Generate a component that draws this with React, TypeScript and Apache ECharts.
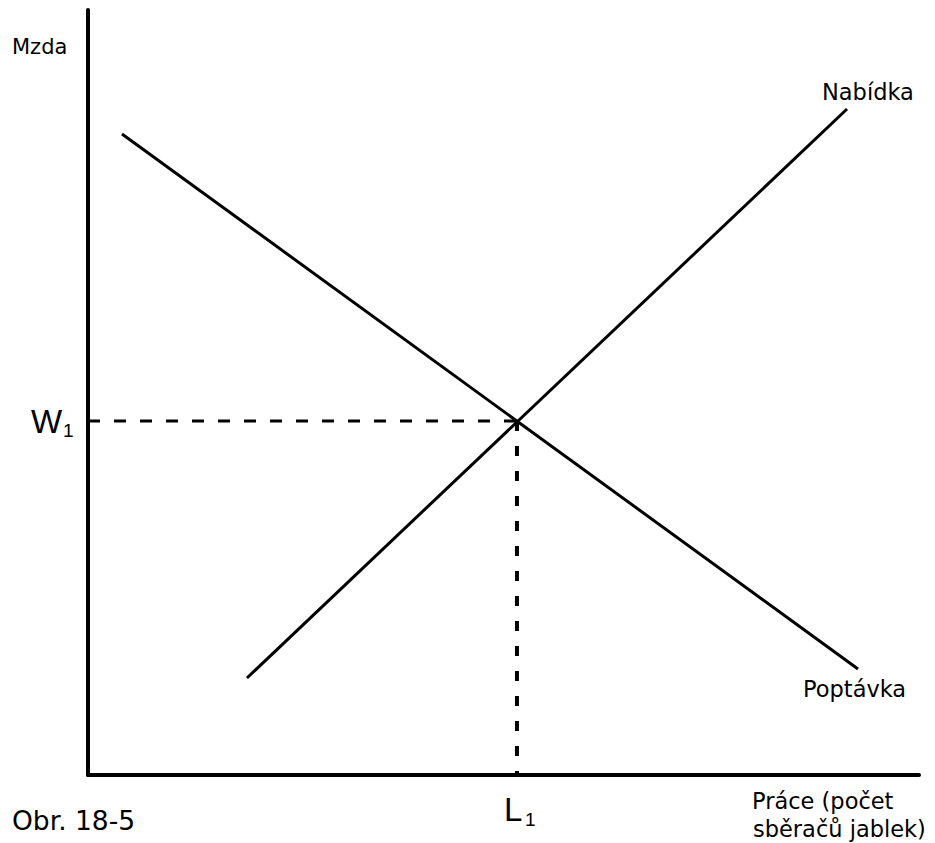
import React, { useEffect, useRef } from "react";
import * as echarts from "echarts";

// Abstract units: x = quantity of labour (0-100), y = wage (0-100)
const demandLine: [number, number][] = [
  [4.09, 83.8],
  [92.66, 13.86],
];
const supplyLine: [number, number][] = [
  [19.13, 12.68],
  [91.34, 87.06],
];
const equilibrium: [number, number] = [51.62, 46.27];

const yAxisTitle = "Mzda";
const xAxisTitleLines = ["Práce (počet", "sběračů jablek)"];
const supplyName = "Nabídka";
const demandName = "Poptávka";
const figureCaption = "Obr. 18-5";

export default function App() {
  const ref = useRef<HTMLDivElement>(null);

  useEffect(() => {
    if (!ref.current) return;
    const chart = echarts.init(ref.current, undefined, { renderer: "svg" });
    const font = "DejaVu Sans";
    const serifless = "Liberation Sans";
    const txt = (
      text: string,
      x: number,
      y: number,
      size: number,
      family = font
    ) => ({
      type: "text",
      x,
      y,
      style: {
        text,
        fill: "#000",
        font: `${size}px "${family}"`,
        textVerticalAlign: "middle",
        textAlign: "left",
      },
    });

    chart.setOption({
      animation: false,
      backgroundColor: "#fff",
      grid: { left: 88, top: 10, width: 831, height: 765 },
      xAxis: {
        type: "value",
        min: 0,
        max: 100,
        axisLine: { show: true, onZero: false, lineStyle: { color: "#000", width: 4 } },
        axisTick: { show: false },
        axisLabel: { show: false },
        splitLine: { show: false },
      },
      yAxis: {
        type: "value",
        min: 0,
        max: 100,
        axisLine: { show: true, onZero: false, lineStyle: { color: "#000", width: 4 } },
        axisTick: { show: false },
        axisLabel: { show: false },
        splitLine: { show: false },
      },
      series: [
        {
          name: demandName,
          type: "line",
          data: demandLine,
          symbol: "none",
          lineStyle: { color: "#000", width: 3 },
        },
        {
          name: supplyName,
          type: "line",
          data: supplyLine,
          symbol: "none",
          lineStyle: { color: "#000", width: 3 },
        },
        {
          name: "W1",
          type: "line",
          data: [
            [0, equilibrium[1]],
            [equilibrium[0], equilibrium[1]],
          ],
          symbol: "none",
          lineStyle: { color: "#000", width: 3, type: [12, 14] },
        },
        {
          name: "L1",
          type: "line",
          data: [
            [equilibrium[0], equilibrium[1]],
            [equilibrium[0], 0],
          ],
          symbol: "none",
          lineStyle: { color: "#000", width: 4, type: [10, 15] },
        },
      ],
      graphic: [
        txt(yAxisTitle, 12, 47, 21),
        txt(supplyName, 822, 92, 22.5),
        txt(demandName, 803, 689, 22.5),
        txt("W", 31, 421, 33, serifless),
        txt("1", 63, 430, 19, serifless),
        txt("L", 504, 809, 33, serifless),
        txt("1", 525, 819, 19, serifless),
        txt(figureCaption, 12, 820, 26.5),
        txt(xAxisTitleLines[0], 752, 801, 22.5),
        txt(xAxisTitleLines[1], 753, 829, 22.5),
      ],
    });
    return () => chart.dispose();
  }, []);

  return (
    <div
      ref={ref}
      style={{ position: "fixed", left: 0, top: 0, width: 935, height: 843 }}
    />
  );
}
